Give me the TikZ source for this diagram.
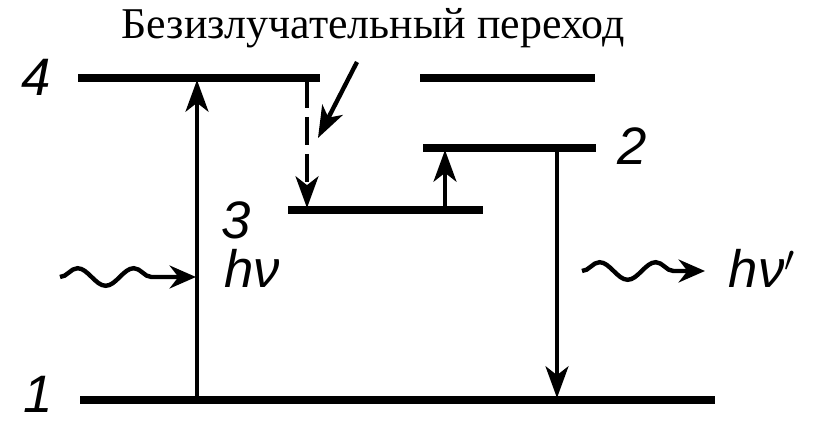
\documentclass[tikz,border=0pt]{standalone}
\usepackage{fontspec}
\setmainfont{Liberation Serif}
\newfontfamily\handfont{Liberation Sans}
\usepackage{tikz}
\usetikzlibrary{arrows.meta,positioning}
\usetikzlibrary{decorations.pathmorphing}
\tikzset{
  level/.style={line width=5pt, line cap=butt},
  trans/.style={line width=2.5pt, -{Stealth[length=18pt,width=13pt,inset=5pt]}},
  nonrad/.style={trans, dash pattern=on 16pt off 5pt},
  photon/.style={line width=2.5pt, -{Stealth[length=15pt,width=13pt,inset=5pt]},
    decorate, decoration={snake, segment length=32pt, amplitude=5pt, post length=15pt}},
  lvlnum/.style={font=\handfont\itshape\fontsize{30}{30}\selectfont, inner sep=0pt},
  caption/.style={font=\fontsize{25}{25}\selectfont, inner sep=0pt}
}

\begin{document}
\begin{tikzpicture}[x=0.02cm,y=-0.02cm]
  \useasboundingbox (0,0) rectangle (833,422);
  % energy levels
  \coordinate (l4a) at (78,78);   \coordinate (l4b) at (320,78);
  \coordinate (l5a) at (420,78);  \coordinate (l5b) at (595,78);
  \coordinate (l2a) at (423,148); \coordinate (l2b) at (596,148);
  \coordinate (l3a) at (288,210); \coordinate (l3b) at (483,210);
  \coordinate (l1a) at (80,400);  \coordinate (l1b) at (715,400);
  \draw[level] (l4a) -- (l4b);
  \draw[level] (l5a) -- (l5b);
  \draw[level] (l2a) -- (l2b);
  \draw[level] (l3a) -- (l3b);
  \draw[level] (l1a) -- (l1b);
  % transitions
  \coordinate (pumpS) at (197,400); \coordinate (pumpE) at (197,80);
  \coordinate (nrS) at (307,80);    \coordinate (nrE) at (307,208);
  \coordinate (upS) at (445,208);   \coordinate (upE) at (445,150);
  \coordinate (emS) at (557,150);   \coordinate (emE) at (557,398);
  \draw[trans] (pumpS) -- (pumpE);
  \draw[nonrad] (nrS) -- (nrE);
  \draw[trans] (upS) -- (upE);
  \draw[trans] (emS) -- (emE);
  % photons
  \coordinate (inS) at (60,277);  \coordinate (inE) at (196,277);
  \coordinate (outS) at (582,271); \coordinate (outE) at (705,271);
  \draw[photon] (inS) -- (inE);
  \draw[photon] (outS) -- (outE);
  % labels
  \node[caption] (cap) at (373,28) {Безизлучательный переход};
  \coordinate (ptrS) at (357,62); \coordinate (ptrE) at (318,138);
  \draw[trans] (ptrS) -- (ptrE);
  \node[lvlnum] (n4) at (36,77) {4};
  \node[lvlnum] (n2) at (632,146) {2};
  \node[lvlnum] (n3) at (236,220) {3};
  \node[lvlnum] (n1) at (38,394) {1};
  \node[lvlnum] (hv) at (252,268) {hν};
  \node[lvlnum] (hvp) at (762,268) {hν$'$};
\end{tikzpicture}
\end{document}
